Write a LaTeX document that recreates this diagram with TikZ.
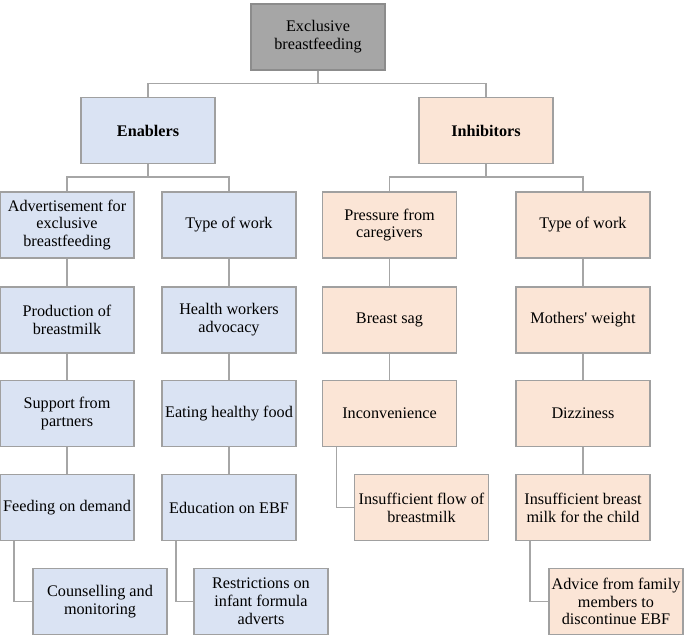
\documentclass[tikz,border=0pt]{standalone}
\usepackage{fontspec}
\setmainfont{Liberation Serif}
\definecolor{boxline}{HTML}{A0A0A0}
\definecolor{linkgray}{HTML}{A6A6A6}
\definecolor{topfill}{HTML}{A6A6A6}
\definecolor{enabfill}{HTML}{DAE3F3}
\definecolor{inhibfill}{HTML}{FBE5D6}
\begin{document}
\begin{tikzpicture}[x=1pt, y=-1pt,
  every node/.style={font=\fontsize{16.2}{17.8}\selectfont},
  box/.style={draw=boxline, line width=1.2pt, align=center, minimum width=134pt, minimum height=66pt, inner sep=2pt},
  topbox/.style={box, fill=topfill, draw=gray!90},
  enab/.style={box, fill=enabfill},
  inhib/.style={box, fill=inhibfill},
  link/.style={draw=linkgray, line width=1.3pt}]
  \useasboundingbox (0,0) rectangle (685,636);

  \node[topbox] (ebf) at (318,37) {Exclusive\\breastfeeding};
  \node[enab] (enablers) at (148,130.5) {\textbf{Enablers}};
  \node[inhib] (inhibitors) at (486,130.5) {\textbf{Inhibitors}};

  % enablers
  \node[enab] (advert) at (67,225) {Advertisement for\\exclusive\\breastfeeding};
  \node[enab] (milk) at (67,320) {Production of\\breastmilk};
  \node[enab] (partner) at (67,413.5) {Support from\\partners};
  \node[enab] (demand) at (67,507.5) {Feeding on demand};
  \node[enab] (counsel) at (100,601.5) {Counselling and\\monitoring};

  \node[enab] (work) at (229,225) {Type of work};
  \node[enab] (advocacy) at (229,320) {Health workers\\advocacy};
  \node[enab] (food) at (229,413.5) {Eating healthy food};
  \node[enab] (educ) at (229,507.5) {Education on EBF};
  \node[enab] (restrict) at (261,601.5) {Restrictions on\\infant formula\\adverts};

  % inhibitors
  \node[inhib] (pressure) at (389.5,225) {Pressure from\\caregivers};
  \node[inhib] (sag) at (389.5,320) {Breast sag};
  \node[inhib] (inconv) at (389.5,413.5) {Inconvenience};
  \node[inhib] (flow) at (421.5,507.5) {Insufficient flow of\\breastmilk};

  \node[inhib] (work2) at (583,225) {Type of work};
  \node[inhib] (weight) at (583,320) {Mothers\textquotesingle{} weight};
  \node[inhib] (dizzy) at (583,413.5) {Dizziness};
  \node[inhib] (insuff) at (583,507.5) {Insufficient breast\\milk for the child};
  \node[inhib] (advice) at (616,601.5) {Advice from family\\members to\\discontinue EBF};

  % tree links
  \draw[link] (ebf.south) -- ++(0,13) -| (enablers.north);
  \draw[link] (ebf.south) -- ++(0,13) -| (inhibitors.north);
  \draw[link] (enablers.south) -- ++(0,13) -| (advert.north);
  \draw[link] (enablers.south) -- ++(0,13) -| (work.north);
  \draw[link] (inhibitors.south) -- ++(0,13) -| (pressure.north);
  \draw[link] (inhibitors.south) -- ++(0,13) -| (work2.north);

  \foreach \a/\b in {advert/milk, milk/partner, partner/demand,
                     work/advocacy, advocacy/food, food/educ,
                     pressure/sag, sag/inconv,
                     work2/weight, weight/dizzy, dizzy/insuff}
    \draw[link] (\a) -- (\b);

  \foreach \a/\b in {demand/counsel, educ/restrict, inconv/flow, insuff/advice}
    \draw[link] ([xshift=-53pt]\a.south) |- (\b.west);
\end{tikzpicture}
\end{document}
